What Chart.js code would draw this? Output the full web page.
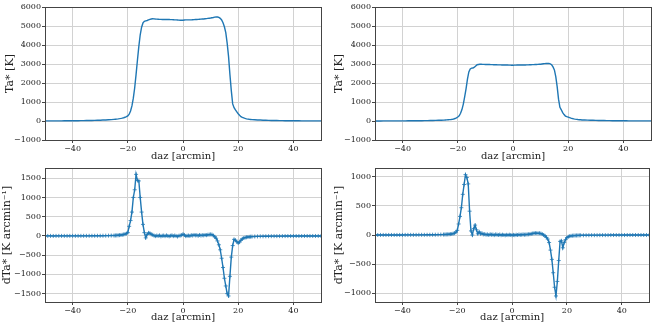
<!DOCTYPE html>
<html lang="en">
<head>
<meta charset="UTF-8">
<title>Ta* scans</title>
<script src="https://cdn.jsdelivr.net/npm/chart.js"></script>
<style>
  body { margin: 0; background: #fff; }
  #fig { position: relative; width: 654px; height: 326px; }
  canvas { position: absolute; }
</style>
</head>
<body>
<div id="fig">
  <canvas id="taL" width="327" height="163" style="left:0;top:0"></canvas>
  <canvas id="taR" width="327" height="163" style="left:327px;top:0"></canvas>
  <canvas id="dtaL" width="327" height="163" style="left:0;top:163px"></canvas>
  <canvas id="dtaR" width="327" height="163" style="left:327px;top:163px"></canvas>
</div>
<script>
// scan offsets (arcmin): 1' steps in the wings, 0.5' steps across the source
const daz = [
  -50,-49,-48,-47,-46,-45,-44,-43,-42,-41,-40,-39,-38,-37,-36,-35,-34,-33,-32,-31,-30,-29,-28,-27,-26,
  -25,-24.5,-24,-23.5,-23,-22.5,-22,-21.5,-21,-20.5,
  -20,-19.5,-19,-18.5,-18,-17.5,-17,-16.5,-16,-15.5,
  -15,-14.5,-14,-13.5,-13,-12.5,-12,-11.5,-11,-10.5,
  -10,-9.5,-9,-8.5,-8,-7.5,-7,-6.5,-6,-5.5,
  -5,-4.5,-4,-3.5,-3,-2.5,-2,-1.5,-1,-0.5,
  0,0.5,1,1.5,2,2.5,3,3.5,4,4.5,
  5,5.5,6,6.5,7,7.5,8,8.5,9,9.5,
  10,10.5,11,11.5,12,12.5,13,13.5,14,14.5,
  15,15.5,16,16.5,17,17.5,18,18.5,19,19.5,
  20,20.5,21,21.5,22,22.5,23,23.5,24,24.5,
  25,
  26,27,28,29,30,31,32,33,34,35,36,37,38,39,40,41,42,43,44,45,46,47,48,49,50
];

const taLeft = [
  5,5,6,6,7,8,9,10,11,12,14,15,17,19,21,24,27,30,34,38,43,49,56,64,74,
  85,92,100,110,122,136,152,172,196,228,
  270,356,526,791,1201,1751,2451,3211,3931,4539,
  4937,5162,5250,5270,5290,5320,5350,5370,5380,5375,
  5365,5360,5355,5350,5350,5345,5345,5345,5340,5340,
  5340,5335,5335,5330,5325,5320,5315,5310,5305,5300,
  5305,5315,5320,5320,5320,5325,5325,5330,5335,5340,
  5345,5350,5355,5360,5365,5370,5380,5390,5400,5410,
  5420,5435,5450,5470,5480,5475,5450,5400,5320,5170,
  4960,4650,4100,3400,2450,1600,900,700,580,480,
  380,300,230,190,160,135,115,100,90,82,
  75,
  65,56,49,43,38,34,30,27,24,21,19,17,15,14,12,11,10,9,8,7,6,6,5,5,4
];

const taRight = [
  3,3,3,4,4,5,5,6,6,7,8,9,10,11,12,14,15,17,19,22,25,28,32,37,42,
  48,52,57,63,70,78,88,105,130,165,
  210,277,404,601,891,1281,1700,2200,2580,2740,
  2780,2790,2830,2900,2960,2975,2985,2985,2980,2980,
  2975,2975,2970,2970,2965,2965,2960,2960,2960,2955,
  2955,2955,2950,2950,2950,2945,2945,2940,2940,2935,
  2935,2940,2940,2945,2945,2945,2950,2950,2950,2950,
  2955,2955,2960,2960,2965,2965,2970,2975,2980,2985,
  2990,3000,3010,3020,3030,3035,3030,3010,2960,2850,
  2690,2340,1810,1150,720,590,440,340,260,225,
  200,175,150,130,112,98,86,76,68,62,
  56,
  50,45,40,36,32,29,26,23,21,19,17,15,14,12,11,10,9,8,7,6,6,5,5,4,4
];

const dtaLeft = [
  1,1,1,0,1,1,1,1,1,2,2,2,2,2,3,3,3,4,4,5,5,6,7,8,10,
  11,13,15,18,21,25,30,38,48,62,
  86,250,400,620,1000,1200,1600,1440,1430,1000,
  620,300,86,-50,40,80,70,40,30,10,
  -5,10,0,15,-10,5,10,-5,15,0,
  -10,5,15,-5,10,0,-15,5,10,20,
  45,25,-5,5,10,0,20,10,25,15,
  20,5,25,10,20,15,25,20,30,35,
  40,35,10,-20,-60,-130,-230,-360,-580,-820,
  -1100,-1300,-1500,-1560,-1050,-550,-250,-90,-110,-150,
  -185,-160,-110,-75,-55,-42,-34,-28,-24,-20,
  -17,
  -14,-12,-10,-9,-8,-7,-6,-5,-5,-4,-4,-3,-3,-3,-2,-2,-2,-2,-1,-1,-1,-1,-1,-1,0
];

const dtaRight = [
  0,0,1,1,1,1,1,1,1,1,1,2,2,2,2,2,3,3,3,4,4,5,5,6,7,
  8,9,10,11,13,15,18,24,32,48,
  80,190,320,470,700,870,1040,990,880,410,
  70,0,110,170,90,20,55,20,30,10,
  15,5,10,0,12,5,8,-2,10,5,
  0,8,-3,5,0,-5,3,-2,5,0,
  -5,2,-3,5,0,8,3,5,10,5,
  8,10,12,15,20,25,30,32,30,28,
  30,25,15,0,-15,-40,-70,-130,-260,-420,
  -650,-900,-1050,-800,-440,-110,-100,-220,-130,-80,
  -45,-30,-20,-15,-12,-10,-9,-8,-7,-6,
  -5,
  -5,-4,-4,-3,-3,-3,-2,-2,-2,-2,-1,-1,-1,-1,-1,-1,0,0,0,0,0,0,0,0,0
];

const xTicks = [-40, -20, 0, 20, 40];
const taTicks = [-1000, 0, 1000, 2000, 3000, 4000, 5000, 6000];
const dtaLeftTicks = [-1500, -1000, -500, 0, 500, 1000, 1500];
const dtaRightTicks = [-1000, -500, 0, 500, 1000];

const blue = '#1f77b4';
const ink = '#222';
const gridColor = '#d2d2d2';
const serif = 'DejaVu Serif';

function fmt(v) {
  return v < 0 ? '\u2212' + Math.abs(v) : String(v);
}

const frame = {
  id: 'frame',
  afterDraw(chart) {
    const { ctx, chartArea: a } = chart;
    ctx.save();
    ctx.strokeStyle = '#444';
    ctx.lineWidth = 1;
    ctx.strokeRect(Math.round(a.left) + 0.5, Math.round(a.top) + 0.5,
      Math.round(a.right - a.left), Math.round(a.bottom - a.top));
    ctx.restore();
  }
};

function panel(id, ys, o) {
  new Chart(document.getElementById(id), {
    type: 'line',
    data: {
      datasets: [{
        data: daz.map((x, i) => ({ x: x, y: ys[i] })),
        borderColor: blue,
        borderWidth: 1.4,
        tension: 0,
        fill: false,
        pointRadius: o.marks ? 2 : 0,
        pointStyle: 'cross',
        pointBorderColor: blue,
        pointBorderWidth: 0.8
      }]
    },
    options: {
      responsive: false,
      animation: false,
      devicePixelRatio: 1,
      layout: { padding: o.pad },
      plugins: { legend: { display: false }, tooltip: { enabled: false } },
      scales: {
        x: {
          type: 'linear', min: -50, max: 50,
          afterBuildTicks: s => { s.ticks = xTicks.map(v => ({ value: v })); },
          afterFit: s => { s.height = o.xH; },
          grid: { color: gridColor, tickColor: '#444', tickLength: 3 },
          border: { display: false },
          ticks: { font: { family: serif, size: 8, lineHeight: 1 }, color: ink, padding: 2, maxRotation: 0, autoSkip: false, callback: fmt },
          title: { display: true, text: 'daz [arcmin]', color: ink, font: { family: serif, size: 10 }, padding: { top: 0, bottom: o.xTitlePad } }
        },
        y: {
          type: 'linear', min: o.yMin, max: o.yMax,
          afterBuildTicks: s => { s.ticks = o.yTicks.map(v => ({ value: v })); },
          afterFit: s => { s.width = o.yW; },
          grid: { color: gridColor, tickColor: '#444', tickLength: 3 },
          border: { display: false },
          ticks: { font: { family: serif, size: 8, lineHeight: 1 }, color: ink, padding: 1, autoSkip: false, callback: fmt },
          title: { display: true, text: o.title, color: ink, font: { family: serif, size: 11 }, padding: { top: o.yTitlePad, bottom: 0 } }
        }
      }
    },
    plugins: [frame]
  });
}

panel('taL', taLeft, { yMin: -1000, yMax: 6000, yTicks: taTicks, title: 'Ta* [K]', marks: false,
  pad: { left: 0, top: 7, right: 6, bottom: 0 }, yW: 45, xH: 23, yTitlePad: 3.4, xTitlePad: 1 });
panel('taR', taRight, { yMin: -1000, yMax: 6000, yTicks: taTicks, title: 'Ta* [K]', marks: false,
  pad: { left: 0, top: 7, right: 3, bottom: 0 }, yW: 48, xH: 23, yTitlePad: 5.4, xTitlePad: 1 });
panel('dtaL', dtaLeft, { yMin: -1717, yMax: 1766, yTicks: dtaLeftTicks, title: 'dTa* [K arcmin\u207B\u00B9]', marks: true,
  pad: { left: 0, top: 4, right: 6, bottom: 0 }, yW: 45, xH: 24, yTitlePad: 0.9, xTitlePad: 3 });
panel('dtaR', dtaRight, { yMin: -1154, yMax: 1154, yTicks: dtaRightTicks, title: 'dTa* [K arcmin\u207B\u00B9]', marks: true,
  pad: { left: 0, top: 4, right: 3, bottom: 0 }, yW: 48, xH: 24, yTitlePad: 5.7, xTitlePad: 3 });
</script>
</body>
</html>
